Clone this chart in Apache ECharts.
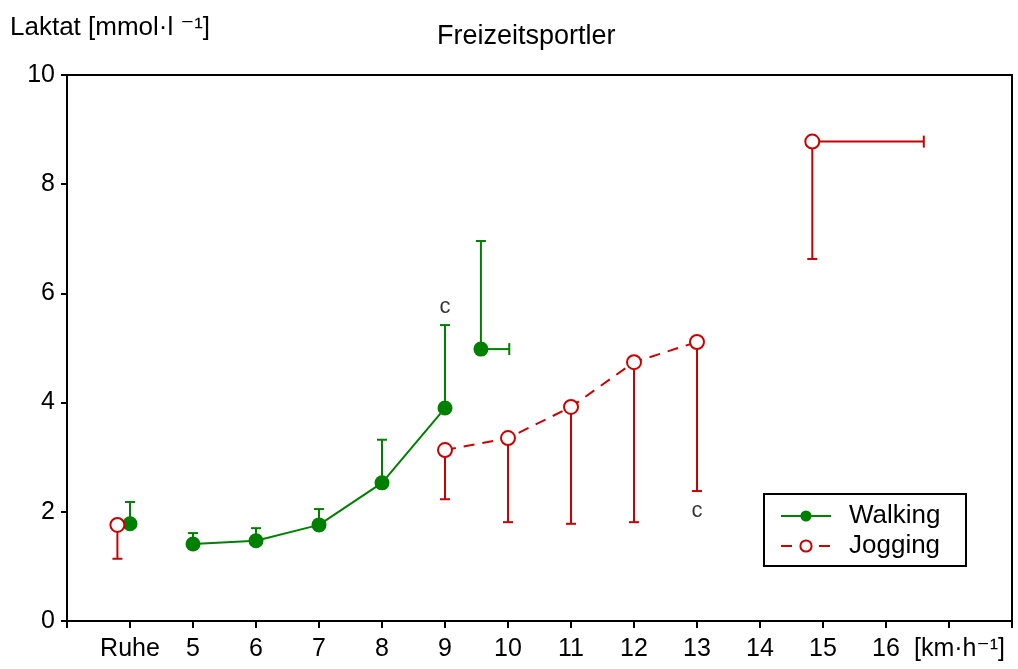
<!DOCTYPE html>
<html>
<head>
<meta charset="utf-8">
<script src="https://cdn.jsdelivr.net/npm/echarts@6/dist/echarts.min.js"></script>
<style>html,body{margin:0;padding:0;background:#fff}#c{width:1018px;height:669px}</style>
</head>
<body>
<div id="c"></div>
<script>
// ---- data ----
const xTickLabels = ['', 'Ruhe', '5', '6', '7', '8', '9', '10', '11', '12', '13', '14', '15', '16', '[km·h⁻¹]', ''];
const yTicks = [0, 2, 4, 6, 8, 10];

// Walking (green, filled)
const walkRestX = [4.0], walkRestY = [1.78], walkRestUp = [2.18];
const walkX = [5, 6, 7, 8, 9];
const walkY = [1.41, 1.47, 1.76, 2.53, 3.90];
const walkUp = [1.61, 1.70, 2.05, 3.32, 5.42];
const walkMaxX = [9.57], walkMaxY = [4.98], walkMaxUp = [6.96], walkMaxXEnd = [10.02];

// Jogging (red, open)
const jogRestX = [3.8], jogRestY = [1.76], jogRestLow = [1.14];
const jogX = [9, 10, 11, 12, 13];
const jogY = [3.13, 3.35, 3.92, 4.74, 5.11];
const jogLow = [2.23, 1.81, 1.78, 1.81, 2.38];
const jogMaxX = [14.83], jogMaxY = [8.78], jogMaxLow = [6.63], jogMaxXEnd = [16.60];

// annotations
const noteX = [9, 13];
const noteY = [5.75, 2.01];
const noteText = ['c', 'c'];

const GREEN = '#008000', RED = '#cc0000';
const FONT = 'Liberation Sans, Arial, DejaVu Sans, sans-serif';

function zip(xs, ys) { return xs.map((x, i) => [x, ys[i]]); }
function vBars(xs, ys, ends) { return xs.map((x, i) => [x, ys[i], ends[i]]); }
function hBars(xs, ends, ys) { return xs.map((x, i) => [x, ends[i], ys[i]]); }

function vRender(color) {
  return function (params, api) {
    const x = api.value(0), y1 = api.value(1), y2 = api.value(2);
    const p1 = api.coord([x, y1]), p2 = api.coord([x, y2]);
    const st = { stroke: color, lineWidth: 2 };
    return { type: 'group', children: [
      { type: 'line', shape: { x1: p1[0], y1: p1[1], x2: p2[0], y2: p2[1] }, style: st },
      { type: 'line', shape: { x1: p2[0] - 5, y1: p2[1], x2: p2[0] + 5, y2: p2[1] }, style: st }
    ]};
  };
}
function hRender(color) {
  return function (params, api) {
    const x1 = api.value(0), x2 = api.value(1), y = api.value(2);
    const p1 = api.coord([x1, y]), p2 = api.coord([x2, y]);
    const st = { stroke: color, lineWidth: 2 };
    return { type: 'group', children: [
      { type: 'line', shape: { x1: p1[0], y1: p1[1], x2: p2[0], y2: p2[1] }, style: st },
      { type: 'line', shape: { x1: p2[0], y1: p2[1] - 6, x2: p2[0], y2: p2[1] + 6 }, style: st }
    ]};
  };
}

const chart = echarts.init(document.getElementById('c'));
const walkSym = { symbol: 'circle', symbolSize: 15, itemStyle: { color: GREEN, opacity: 1 } };
const jogSym = { symbol: 'emptyCircle', symbolSize: 14, itemStyle: { color: RED, borderColor: RED, borderWidth: 2, opacity: 1 } };

chart.setOption({
  animation: false,
  backgroundColor: '#fff',
  textStyle: { fontFamily: FONT },
  title: {
    text: 'Freizeitsportler', left: 432, top: 18,
    textStyle: { fontFamily: FONT, fontSize: 27, fontWeight: 'normal', color: '#000' }
  },
  graphic: [{
    type: 'text', left: 10, top: 15,
    style: {
      text: 'Laktat [mmol·l ⁻¹]',
      font: '26px ' + FONT,
      fill: '#000'
    }
  }],
  grid: { left: 67, right: 6, top: 75, bottom: 48, show: true, borderColor: '#000', borderWidth: 2, backgroundColor: 'transparent' },
  legend: {
    left: 764, top: 494, orient: 'vertical',
    data: ['Walking', 'Jogging'],
    itemWidth: 50, itemHeight: 14, itemGap: 2,
    padding: [8, 19, 6, 16],
    borderColor: '#000', borderWidth: 2, backgroundColor: '#fff',
    textStyle: { fontFamily: FONT, fontSize: 26, color: '#000', lineHeight: 28, padding: [0, 0, 0, 13], width: 98 }
  },
  xAxis: {
    type: 'value', min: 3, max: 18, interval: 1,
    splitLine: { show: false },
    axisLine: { lineStyle: { color: '#000', width: 2 } },
    axisTick: { inside: false, length: 7, lineStyle: { color: '#000', width: 2 } },
    axisLabel: {
      margin: 16, color: '#000', fontFamily: FONT, fontSize: 25,
      formatter: function (v) {
        const s = xTickLabels[Math.round(v) - 3] || '';
        return s.length > 6 ? '   ' + s : s;
      }
    }
  },
  yAxis: {
    type: 'value', min: yTicks[0], max: yTicks[yTicks.length - 1], interval: 2,
    splitLine: { show: false },
    axisLine: { show: true, lineStyle: { color: '#000', width: 2 } },
    axisTick: { show: true, inside: false, length: 6, lineStyle: { color: '#000', width: 2 } },
    axisLabel: { margin: 12, color: '#000', fontFamily: FONT, fontSize: 25 }
  },
  series: [
    // error bars
    { type: 'custom', name: 'walkErrRest', renderItem: vRender(GREEN), data: vBars(walkRestX, walkRestY, walkRestUp), z: 1 },
    { type: 'custom', name: 'walkErr', renderItem: vRender(GREEN), data: vBars(walkX, walkY, walkUp), z: 1 },
    { type: 'custom', name: 'walkErrMax', renderItem: vRender(GREEN), data: vBars(walkMaxX, walkMaxY, walkMaxUp), z: 1 },
    { type: 'custom', name: 'walkErrMaxH', renderItem: hRender(GREEN), data: hBars(walkMaxX, walkMaxXEnd, walkMaxY), z: 1 },
    { type: 'custom', name: 'jogErrRest', renderItem: vRender(RED), data: vBars(jogRestX, jogRestY, jogRestLow), z: 1 },
    { type: 'custom', name: 'jogErr', renderItem: vRender(RED), data: vBars(jogX, jogY, jogLow), z: 1 },
    { type: 'custom', name: 'jogErrMax', renderItem: vRender(RED), data: vBars(jogMaxX, jogMaxY, jogMaxLow), z: 1 },
    { type: 'custom', name: 'jogErrMaxH', renderItem: hRender(RED), data: hBars(jogMaxX, jogMaxXEnd, jogMaxY), z: 1 },
    // main lines
    Object.assign({ type: 'line', name: 'Walking', data: zip(walkX, walkY), lineStyle: { color: GREEN, width: 2 }, z: 3 }, walkSym),
    Object.assign({ type: 'line', name: 'Jogging', data: zip(jogX, jogY), lineStyle: { color: RED, width: 2, type: [11, 8] }, z: 3 }, jogSym),
    // separate points
    Object.assign({ type: 'scatter', name: 'walkRest', data: zip(walkRestX, walkRestY).concat(zip(walkMaxX, walkMaxY)), z: 3 }, walkSym),
    Object.assign({ type: 'scatter', name: 'jogRest', data: zip(jogRestX, jogRestY).concat(zip(jogMaxX, jogMaxY)), z: 3 }, jogSym),
    // annotations
    {
      type: 'scatter', name: 'notes', symbolSize: 0, z: 4,
      data: noteX.map((x, i) => ({ value: [x, noteY[i]], label: { formatter: noteText[i] } })),
      label: { show: true, position: 'inside', color: '#000', fontFamily: FONT, fontSize: 22 }
    }
  ]
});
</script>
</body>
</html>
